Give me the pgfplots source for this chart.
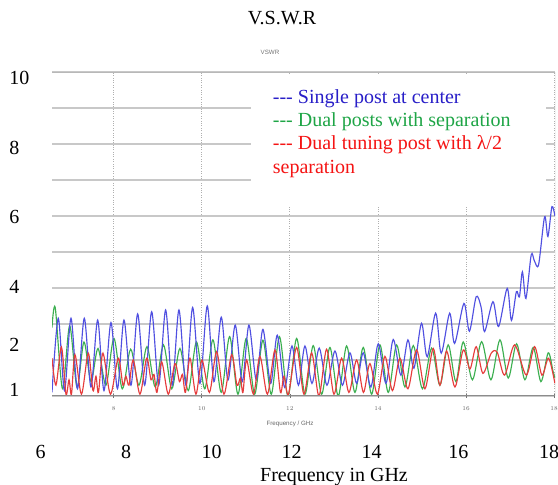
\documentclass[border=0pt]{standalone}
\usepackage{pgfplots}
\pgfplotsset{compat=1.18}
\usepackage{fontspec}
\setmainfont{Liberation Serif}
\newfontfamily\cstfont{Liberation Sans}
\definecolor{bline}{RGB}{80,80,225}
\definecolor{gline}{RGB}{60,175,80}
\definecolor{rline}{RGB}{230,60,60}
\definecolor{btext}{RGB}{40,30,200}
\definecolor{gtext}{RGB}{30,165,70}
\definecolor{rtext}{RGB}{245,20,20}
\definecolor{hgrid}{RGB}{200,200,200}
\definecolor{vgrid}{RGB}{175,175,175}
\newcommand{\outerfont}{\fontsize{20bp}{24bp}\selectfont}
\newcommand{\tinyfont}{\cstfont\fontsize{6.2bp}{7bp}\selectfont}

\pgfplotstableread{
x y
6.600 1.10
6.742 3.16
6.883 1.15
7.031 3.16
7.178 1.20
7.333 3.16
7.485 1.25
7.637 3.11
7.780 1.15
7.939 3.04
8.086 1.20
8.234 3.11
8.393 1.30
8.545 3.28
8.704 1.30
8.863 3.34
9.022 1.30
9.180 3.39
9.330 1.30
9.482 3.39
9.641 1.30
9.793 3.46
9.959 1.35
10.125 3.50
10.277 1.40
10.443 3.19
10.595 1.44
10.760 2.97
10.919 1.40
11.071 2.97
11.237 1.45
11.389 2.85
11.564 1.35
11.714 2.69
11.882 1.24
12.048 2.39
12.195 1.30
12.343 2.39
12.502 1.35
12.667 2.33
12.842 1.30
13.024 2.25
13.194 1.30
13.364 2.20
13.516 1.35
13.666 2.20
13.841 1.25
14.007 2.45
14.182 1.35
14.347 2.57
14.522 1.58
14.681 2.56
14.817 1.77
14.988 3.02
15.119 2.09
15.310 3.30
15.437 2.19
15.628 3.30
15.741 2.46
15.952 3.57
16.077 2.80
16.231 3.76
16.345 3.45
16.422 2.79
16.611 3.62
16.740 2.93
16.935 3.99
17.030 3.10
17.144 3.90
17.212 3.75
17.280 4.45
17.360 3.71
17.480 4.92
17.553 4.75
17.648 4.65
17.784 5.98
17.859 5.43
17.950 6.26
18.018 6.00
}\singlepost

\pgfplotstableread{
x y
6.600 2.90
6.674 3.45
6.838 1.20
7.001 2.95
7.167 1.25
7.326 2.50
7.485 1.40
7.644 2.32
7.825 1.30
8.007 2.60
8.195 1.20
8.386 2.30
8.574 1.30
8.756 2.37
8.944 1.25
9.131 2.42
9.319 1.20
9.505 2.32
9.694 1.15
9.880 2.50
10.068 1.20
10.254 2.56
10.443 1.10
10.633 2.65
10.822 1.05
11.010 2.60
11.201 1.05
11.389 2.55
11.578 1.05
11.764 2.65
11.957 1.00
12.154 2.60
12.343 1.05
12.531 2.40
12.722 1.05
12.910 2.35
13.099 1.00
13.289 2.39
13.478 1.10
13.666 2.35
13.857 1.05
14.045 2.42
14.234 1.10
14.424 2.42
14.613 1.25
14.803 2.40
15.010 1.20
15.219 2.33
15.407 1.30
15.595 2.42
15.770 1.40
15.937 2.50
16.145 1.45
16.354 2.51
16.565 1.45
16.770 2.56
16.958 1.50
17.148 2.45
17.337 1.45
17.525 2.35
17.700 1.40
17.866 2.20
17.973 1.70
18.018 1.50
}\dualsep

\pgfplotstableread{
x y
6.600 2.05
6.690 1.30
6.815 2.36
6.917 1.05
6.986 1.45
7.042 1.05
7.122 2.15
7.269 1.05
7.423 2.19
7.530 1.15
7.598 1.55
7.655 1.10
7.757 2.19
7.927 1.05
8.104 2.05
8.211 1.30
8.279 1.55
8.347 1.30
8.445 2.00
8.597 1.05
8.749 2.05
8.847 1.45
8.915 1.60
8.983 1.10
9.090 1.95
9.240 1.05
9.392 1.90
9.494 1.40
9.562 1.60
9.630 1.10
9.732 2.05
9.868 1.05
10.004 2.00
10.175 1.10
10.338 2.23
10.504 1.05
10.679 2.15
10.799 1.30
10.879 1.50
10.935 1.10
11.019 2.00
11.174 1.05
11.321 2.10
11.491 1.05
11.662 2.28
11.787 1.10
11.866 1.55
11.968 1.05
12.154 2.35
12.320 1.05
12.495 2.20
12.661 1.00
12.835 2.30
13.001 1.05
13.176 2.05
13.341 1.10
13.516 2.00
13.671 1.10
13.818 1.90
13.988 1.05
14.159 2.10
14.329 1.15
14.500 2.05
14.681 1.20
14.878 2.28
15.067 1.20
15.255 2.32
15.407 1.30
15.560 2.25
15.748 1.25
15.937 2.28
16.089 1.75
16.231 2.37
16.383 1.63
16.572 2.19
16.709 2.21
16.876 1.58
17.103 2.42
17.367 1.58
17.557 2.37
17.723 1.58
17.875 2.05
18.018 1.35
}\dualhalf

\begin{document}
\begin{tikzpicture}
\useasboundingbox (0,0) rectangle (558bp,485bp);
\begin{axis}[
  at={(52bp,89bp)}, anchor=south west,
  scale only axis, width=503bp, height=324bp,
  xmin=6.6, xmax=18.02, ymin=1, ymax=10,
  xtick={8,10,...,18}, ytick={1,...,10}, yticklabels={},
  axis line style={draw=none},
  xmajorgrids, ymajorgrids,
  x grid style={vgrid, dotted, line width=0.8bp},
  y grid style={hgrid, line width=1.6bp},
  xtick pos=left, ytick style={draw=none},
  tick align=center, major tick length=3.5bp,
  x tick style={black!55, line width=0.6bp},
  xticklabel style={font=\tinyfont, text=black!60, yshift=-5bp},
  clip=true,
]
\fill[white] (axis cs:11.117,6.306) rectangle (axis cs:17.814,9.917);
\addplot[gline, line width=1.15bp, smooth, tension=0.5] table {\dualsep};
\addplot[bline, line width=1.15bp, smooth, tension=0.5] table {\singlepost};
\addplot[rline, line width=1.15bp, smooth, tension=0.5] table {\dualhalf};
\draw[black!45, line width=1.4bp] (rel axis cs:0,0) -- (rel axis cs:1,0);
\draw[black!28, line width=1.4bp] (rel axis cs:0,1) -- (rel axis cs:1,1);
\draw[black!35, line width=1bp] (rel axis cs:1,0) -- (rel axis cs:1,1);
\end{axis}
% overlaid texts
\node[anchor=base, font=\outerfont] at (282bp,460bp) {V.S.W.R};
\node[font=\tinyfont, text=black!55] at (270bp,433bp) {VSWR};
\node[font=\tinyfont, text=black!60] at (290bp,61bp) {Frequency / GHz};
\node[anchor=base, font=\outerfont] at (334bp,3.3bp) {Frequency in GHz};
\foreach \xx/\lab in {40.7/6,126/8,211.7/10,291.7/12,371.7/14,458.3/16,549/18}
  \node[font=\outerfont] at (\xx bp,33.3bp) {\lab};
\foreach \yy/\lab in {407/10,336.7/8,268.3/6,198.3/4,140/2,95/1}
  \node[font=\outerfont, anchor=west, inner sep=0pt] at (9.3bp,\yy bp) {\lab};
\node[anchor=base west, inner sep=0pt, font=\outerfont, text=btext] at (272.7bp,381.7bp) {{-}{-}{-} Single post at center};
\node[anchor=base west, inner sep=0pt, font=\outerfont, text=gtext] at (272.7bp,358.4bp) {{-}{-}{-} Dual posts with separation};
\node[anchor=base west, inner sep=0pt, font=\outerfont, text=rtext] at (272.7bp,335.1bp) {{-}{-}{-} Dual tuning post with λ/2};
\node[anchor=base west, inner sep=0pt, font=\outerfont, text=rtext] at (272.7bp,311.8bp) {separation};
\end{tikzpicture}
\end{document}
